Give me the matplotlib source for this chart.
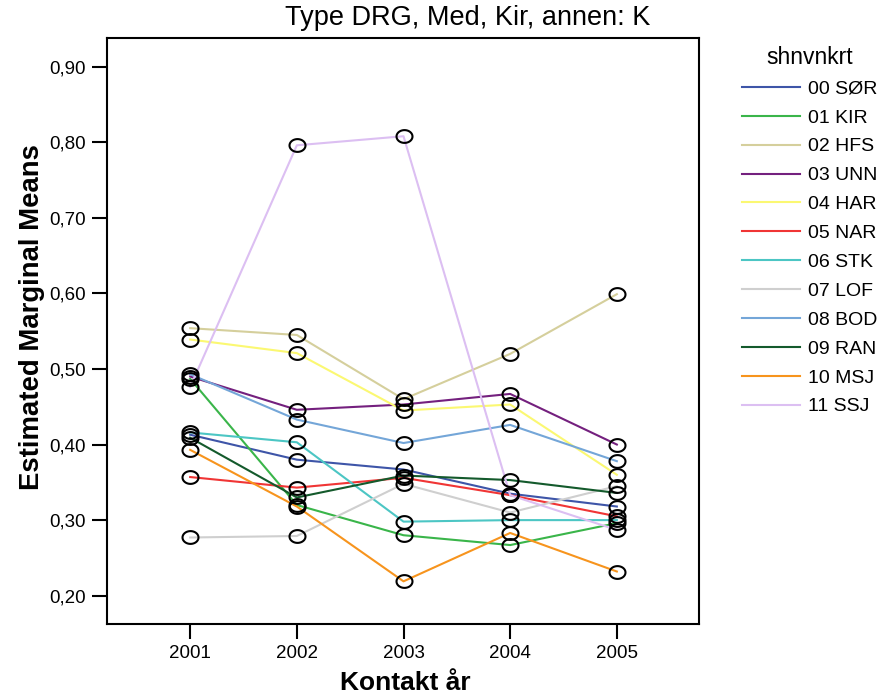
import matplotlib
matplotlib.use('Agg')
import matplotlib.pyplot as plt
from matplotlib.path import Path
import numpy as np

plt.rcParams['font.family'] = ['Liberation Sans', 'DejaVu Sans']

# data
years = [2001, 2002, 2003, 2004, 2005]
year_labels = ['2001', '2002', '2003', '2004', '2005']
y_ticks = [0.20, 0.30, 0.40, 0.50, 0.60, 0.70, 0.80, 0.90]
y_tick_labels = ['0,20', '0,30', '0,40', '0,50', '0,60', '0,70', '0,80', '0,90']

sor = [0.413, 0.380, 0.367, 0.335, 0.318]
kir = [0.487, 0.320, 0.280, 0.267, 0.296]
hfs = [0.554, 0.545, 0.460, 0.520, 0.599]
unn = [0.490, 0.446, 0.453, 0.467, 0.400]
har = [0.539, 0.521, 0.445, 0.453, 0.360]
nar = [0.357, 0.343, 0.356, 0.333, 0.305]
stk = [0.416, 0.403, 0.298, 0.300, 0.300]
lof = [0.277, 0.279, 0.348, 0.310, 0.345]
bod = [0.493, 0.433, 0.402, 0.426, 0.378]
ran = [0.409, 0.330, 0.359, 0.353, 0.336]
msj = [0.393, 0.318, 0.219, 0.283, 0.232]
ssj = [0.476, 0.796, 0.808, 0.333, 0.287]

names = ['00 SØR', '01 KIR', '02 HFS', '03 UNN', '04 HAR', '05 NAR',
         '06 STK', '07 LOF', '08 BOD', '09 RAN', '10 MSJ', '11 SSJ']
series = [sor, kir, hfs, unn, har, nar, stk, lof, bod, ran, msj, ssj]
colors = ['#3e55a8', '#3ab54a', '#d5cf9c', '#74207e', '#fbf872', '#f03535',
          '#4cc6c4', '#cfcfcf', '#74a6d8', '#145a2c', '#f7941d', '#dcbff2']

# slightly flattened circle, like the SPSS marker
t = np.linspace(0, 2 * np.pi, 60)
ellipse = Path(np.column_stack([np.cos(t), 0.8 * np.sin(t)]), closed=True)

fig = plt.figure(figsize=(8.84, 6.97), dpi=100)
ax = fig.add_axes([0.121, 0.1047, 0.6697, 0.8408])

handles = []
for vals, name, col in zip(series, names, colors):
    ln, = ax.plot(years, vals, color=col, linewidth=1.5, label=name)
    handles.append(ln)
for vals in series:
    ax.plot(years, vals, linestyle='none', marker=ellipse, markersize=11.5,
            markerfacecolor='none', markeredgecolor='black', markeredgewidth=1.5)

ax.set_xlim(2000.22, 2005.77)
ax.set_ylim(0.1625, 0.938)
ax.set_xticks(years)
ax.set_xticklabels(year_labels)
ax.set_yticks(y_ticks)
ax.set_yticklabels(y_tick_labels)
ax.tick_params(direction='out', length=11, width=1.5, labelsize=13.5, pad=4)
for sp in ax.spines.values():
    sp.set_linewidth(1.5)

# axis titles placed where SPSS put them (not centred on the axes)
fig.text(405 / 884, 7 / 697, 'Kontakt år', fontsize=19, fontweight='bold',
         ha='center', va='baseline')
fig.text(32 / 884, 1 - 317.5 / 697, 'Estimated Marginal Means', fontsize=19.8,
         fontweight='bold', rotation=90, ha='center', va='center')
fig.text(468 / 884, 1 - 18 / 697, 'Type DRG, Med, Kir, annen: K', fontsize=19.5,
         ha='center', va='center')

leg = fig.legend(handles=handles, title='shnvnkrt', loc='upper left',
                 bbox_to_anchor=(734 / 884, 1 - 38 / 697), frameon=False,
                 fontsize=14, title_fontsize=16.5, handlelength=3.0,
                 handletextpad=0.4, labelspacing=0.58, borderaxespad=0)

fig.savefig('out.png', dpi=100)
